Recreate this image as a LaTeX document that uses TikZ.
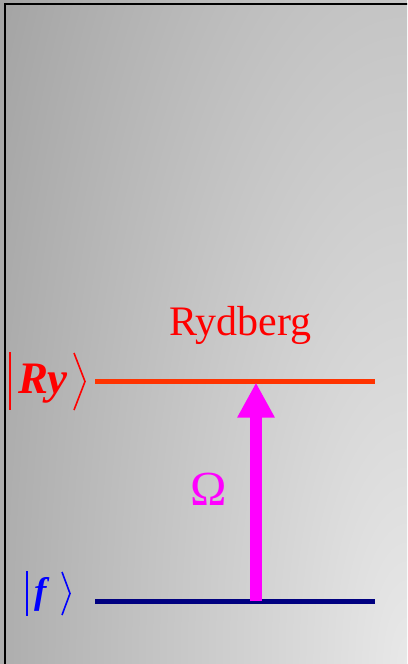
\documentclass[tikz,border=0pt]{standalone}
\usepackage{fontspec}
\setmainfont{Liberation Serif}
\usetikzlibrary{arrows.meta}
\definecolor{bglight}{HTML}{E8E8E8}
\definecolor{bgdark}{HTML}{A2A2A2}
\definecolor{ryline}{HTML}{FF3300}
\definecolor{fline}{HTML}{000080}
\definecolor{rytext}{HTML}{FF0000}
\definecolor{ftext}{HTML}{0000FF}
\definecolor{omg}{HTML}{FF00FF}
\tikzset{
  level/.style={line width=5pt},
  ketbar/.style={line width=2pt},
  ketangle/.style={line width=1.6pt, line join=miter},
  pump/.style={omg, line width=12pt, -{Triangle[width=35pt,length=35pt]}},
  lbl/.style={inner sep=0pt, anchor=base},
}
\begin{document}
\begin{tikzpicture}[x=1pt,y=-1pt]
\useasboundingbox (0,0) rectangle (407,664);
\begin{scope}
  \clip (0,0) rectangle (407,664);
  \shade[inner color=bglight, outer color=bgdark] (407,664) ellipse [x radius=488, y radius=1313];
  \draw[line width=2.5pt] (5,700) -- (5,4) -- (450,4);
\end{scope}
% levels
\coordinate (ryL) at (95,381);
\coordinate (ryR) at (375,381);
\coordinate (fL) at (95,601);
\coordinate (fR) at (375,601);
\draw[level, ryline] (ryL) -- (ryR);
\draw[level, fline] (fL) -- (fR);
% pump arrow
\coordinate (pumpS) at (256,601);
\coordinate (pumpE) at (256,382.5);
\draw[pump] (pumpS) -- (pumpE);
% labels
\node[lbl, rytext, font=\fontsize{42}{42}\selectfont] (rydberg) at (240.5,335) {Rydberg};
\node[lbl, omg, font=\fontsize{49}{49}\selectfont] (omega) at (209,505) {Ω};
% |Ry>
\node[lbl, anchor=base west, rytext, font=\fontsize{45}{45}\selectfont\bfseries\itshape] (ry) at (18,393) {Ry};
\draw[ketbar, rytext] (10,352) -- (10,410);
\draw[ketangle, rytext] (74,353) -- (85,381.5) -- (74,410);
% |f>
\node[lbl, anchor=base west, ftext, font=\fontsize{37}{37}\selectfont\bfseries\itshape] (f) at (34,603) {f};
\draw[ketbar, ftext] (27,571) -- (27,616);
\draw[ketangle, ftext] (62,572) -- (70,593.5) -- (62,615);
\end{tikzpicture}
\end{document}
